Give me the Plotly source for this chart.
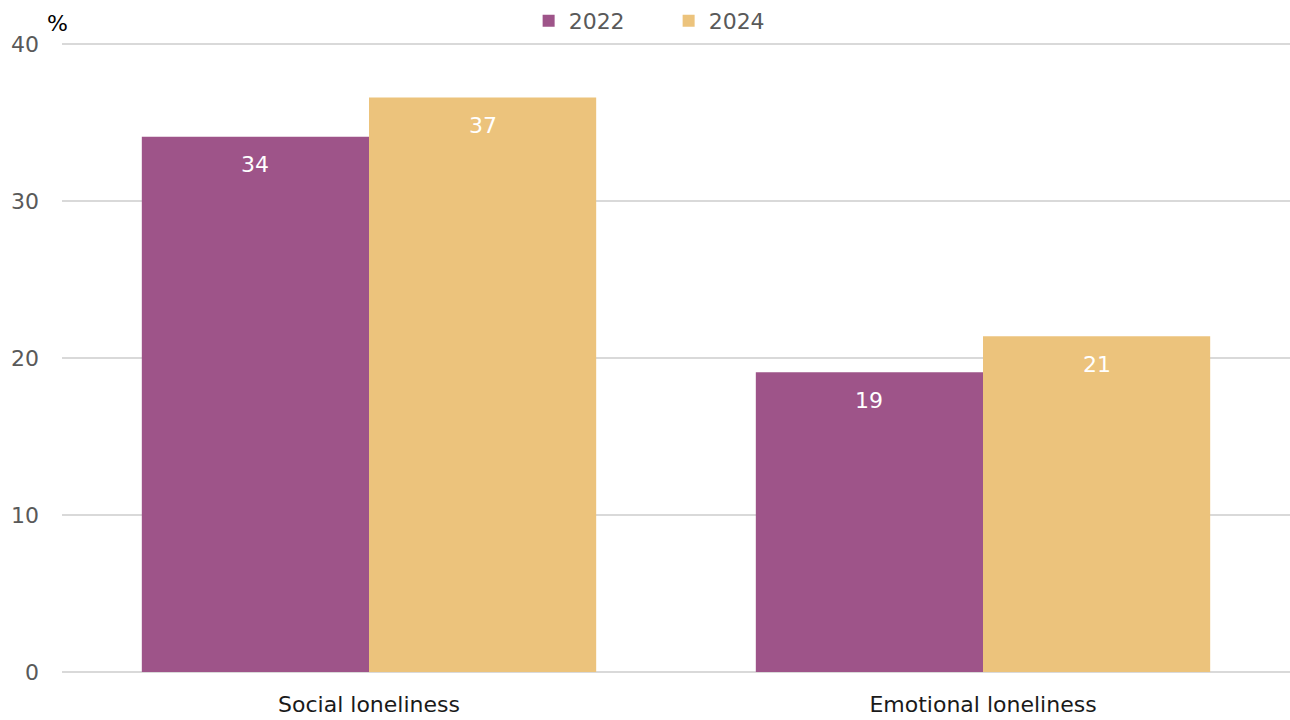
import plotly.graph_objects as go

categories = ["Social loneliness", "Emotional loneliness"]
years = ["2022", "2024"]
values_2022 = [34.1, 19.1]
values_2024 = [36.6, 21.4]
colors = {"2022": "#9e5489", "2024": "#ecc37c"}
y_ticks = [0, 10, 20, 30, 40]

FONT = "DejaVu Sans"
SIZE = 22
series = {"2022": values_2022, "2024": values_2024}

fig = go.Figure()
for yr in years:
    fig.add_trace(go.Bar(
        name=yr, x=categories, y=series[yr],
        marker=dict(color=colors[yr], line=dict(width=0)),
    ))

# value labels sit just below the top of each bar (half a bar width either side of the group centre)
for i, yr in enumerate(years):
    for cat, v in zip(categories, series[yr]):
        fig.add_annotation(
            x=cat, y=v, xref="x", yref="y", text=f"{v:.0f}",
            showarrow=False, xshift=(-114 if i == 0 else 114),
            yshift=-28, font=dict(family=FONT, size=SIZE, color="white"),
        )

fig.add_annotation(x=0, y=1, xref="paper", yref="paper", xshift=-5, yshift=20,
                   text="%", showarrow=False, xanchor="center", yanchor="middle",
                   font=dict(family=FONT, size=SIZE, color="#000000"))

fig.update_layout(
    width=1290, height=720,
    margin=dict(l=62, r=0, t=43, b=48, autoexpand=False),
    plot_bgcolor="white", paper_bgcolor="white",
    barmode="group", bargap=0.26, bargroupgap=0,
    font=dict(family=FONT, size=SIZE, color="#595959"),
    legend=dict(orientation="h", x=0.494, xanchor="center", y=1, yanchor="top",
                yref="container", entrywidth=95, font=dict(size=SIZE, color="#595959"),
                itemwidth=30),
    showlegend=True,
)
fig.update_xaxes(showgrid=False, showline=False, ticks="", ticklabelstandoff=17,
                 tickfont=dict(color="#1a1a1a", size=SIZE))
fig.update_yaxes(range=[0, 40.08], tickvals=y_ticks, showgrid=True, gridcolor="#d9d9d9",
                 gridwidth=2, zeroline=True, zerolinecolor="#d9d9d9", zerolinewidth=2,
                 showline=False, ticks="", ticklabelstandoff=22,
                 tickfont=dict(color="#595959", size=SIZE))

fig.write_html("out.html")
